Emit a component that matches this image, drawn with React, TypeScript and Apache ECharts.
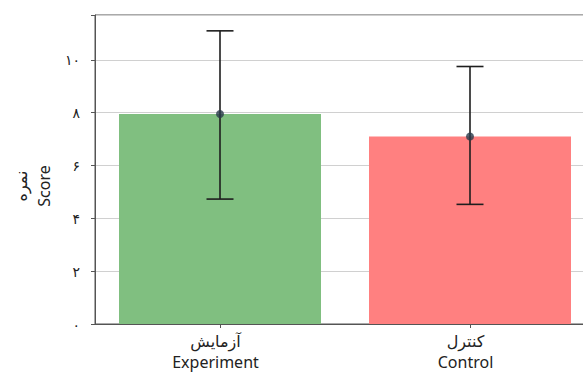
import React, { useEffect, useRef } from "react";
import * as echarts from "echarts";

// Group names (Persian over English)
const categories = ["آزمایش\nExperiment", "کنترل\nControl"];
// Mean score per group
const means = [7.95, 7.1];
// Error-bar bounds per group
const lowerBounds = [4.73, 4.53];
const upperBounds = [11.1, 9.75];
// Bar colours per group
const barColors = ["#80bf80", "#ff8080"];
// Y tick values that carry labels
const yTicks = [0, 2, 4, 6, 8, 10];

const persianDigits = ["۰", "۱", "۲", "۳", "۴", "۵", "۶", "۷", "۸", "۹"];
const toPersian = (n: number) =>
  String(n).replace(/[0-9]/g, (d) => persianDigits[Number(d)]);

const FONT = "'Noto Sans', 'DejaVu Sans', sans-serif";

export default function App() {
  const ref = useRef<HTMLDivElement>(null);

  useEffect(() => {
    document.body.style.margin = "0";
    if (!ref.current) return;
    const chart = echarts.init(ref.current, undefined, { renderer: "svg" });

    const errData = categories.map((_, i) => [i, lowerBounds[i], upperBounds[i]]);

    chart.setOption({
      animation: false,
      backgroundColor: "#ffffff",
      grid: {
        left: 95,
        top: 15,
        width: 500,
        height: 309,
        containLabel: false,
        outerBoundsMode: "none",
        show: true,
        borderColor: "#555555",
        borderWidth: 1,
        backgroundColor: "transparent",
      },
      xAxis: {
        type: "category",
        data: categories,
        axisLine: { show: true, lineStyle: { color: "#555555", width: 1 } },
        axisTick: { show: true, alignWithLabel: true, length: 4, lineStyle: { color: "#555555" } },
        axisLabel: {
          color: "#222222",
          fontFamily: FONT,
          fontSize: 16,
          lineHeight: 21,
          margin: 6,
          padding: [0, 9, 0, 0],
        },
        splitLine: { show: false },
      },
      yAxis: {
        type: "value",
        min: 0,
        max: 11.7,
        interval: 2,
        axisLine: { show: true, lineStyle: { color: "#555555", width: 1 } },
        axisTick: { show: true, length: 4, lineStyle: { color: "#555555" } },
        axisLabel: {
          color: "#222222",
          fontFamily: FONT,
          fontSize: 14,
          margin: 15,
          formatter: (v: number) => (yTicks.includes(v) ? toPersian(v) : ""),
        },
        splitLine: { show: true, lineStyle: { color: "#d0d0d0", width: 1 } },
      },
      graphic: [
        {
          type: "text",
          x: 32,
          y: 186,
          rotation: Math.PI / 2,
          style: {
            text: "نمره\nScore",
            fill: "#222222",
            font: `16px ${FONT}`,
            lineHeight: 23,
            align: "center",
            verticalAlign: "middle",
          },
        },
      ],
      series: [
        {
          type: "bar",
          barWidth: 202,
          data: means.map((v, i) => ({ value: v, itemStyle: { color: barColors[i] } })),
          z: 2,
        },
        {
          type: "custom",
          z: 5,
          data: errData,
          renderItem: (params: any, api: any) => {
            const x = api.coord([api.value(0), 0])[0];
            const lo = api.coord([api.value(0), api.value(1)])[1];
            const hi = api.coord([api.value(0), api.value(2)])[1];
            const half = 13.5;
            const style = { stroke: "#1e1e1e", lineWidth: 1.6 };
            return {
              type: "group",
              children: [
                { type: "line", shape: { x1: x, y1: lo, x2: x, y2: hi }, style },
                { type: "line", shape: { x1: x - half, y1: hi, x2: x + half, y2: hi }, style },
                { type: "line", shape: { x1: x - half, y1: lo, x2: x + half, y2: lo }, style },
              ],
            };
          },
        },
        {
          type: "scatter",
          z: 6,
          symbol: "circle",
          symbolSize: 8,
          itemStyle: { color: "#283a4a" },
          data: means.map((v, i) => [i, v]),
        },
      ],
    });

    return () => chart.dispose();
  }, []);

  return <div ref={ref} style={{ width: 583, height: 372 }} />;
}
